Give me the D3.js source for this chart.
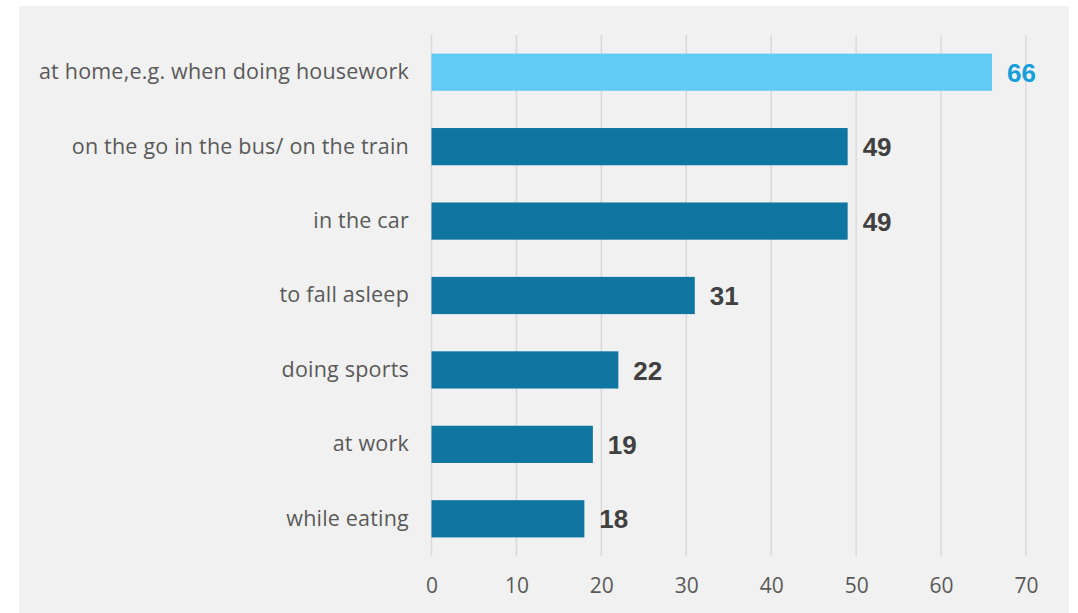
<!DOCTYPE html>
<html>
<head>
<meta charset="utf-8">
<script src="https://cdn.jsdelivr.net/npm/d3@7"></script>
<style>
  html, body { margin: 0; padding: 0; background: #ffffff; }
  svg { display: block; }
</style>
</head>
<body>
<svg id="chart" width="1078" height="613"></svg>
<script>
// Where people listen: share of respondents (%)
const categories = [
  "at home,e.g. when doing housework",
  "on the go in the bus/ on the train",
  "in the car",
  "to fall asleep",
  "doing sports",
  "at work",
  "while eating"
];
const values = [66, 49, 49, 31, 22, 19, 18];
const highlighted = [true, false, false, false, false, false, false];
const tickValues = [0, 10, 20, 30, 40, 50, 60, 70];

const data = categories.map((c, i) => ({ label: c, value: values[i], hi: highlighted[i] }));

const svg = d3.select("#chart");
const W = 1078, H = 613;

// panel background
svg.append("rect")
  .attr("x", 19).attr("y", 6)
  .attr("width", 1050).attr("height", H - 6)
  .attr("fill", "#f1f1f1");

const plot = { left: 431.5, right: 1026, top: 35, bottom: 556 };

const x = d3.scaleLinear().domain([0, 70]).range([plot.left, plot.right]);
const y = d3.scaleBand().domain(categories).range([plot.top, plot.bottom]).paddingInner(0.5).paddingOuter(0.25);

// vertical gridlines
svg.append("g")
  .selectAll("line")
  .data(tickValues)
  .join("line")
  .attr("x1", d => x(d)).attr("x2", d => x(d))
  .attr("y1", plot.top).attr("y2", plot.bottom)
  .attr("stroke", "#d9d9d9")
  .attr("stroke-width", 1.5);

// x axis tick labels
const xAxis = d3.axisBottom(x).tickValues(tickValues).tickSize(0).tickPadding(0);
const gx = svg.append("g")
  .attr("transform", `translate(0,${plot.bottom + 22})`)
  .call(xAxis);
gx.select(".domain").remove();
gx.selectAll("text")
  .attr("dy", "0.71em")
  .attr("fill", "#595959")
  .style("font-family", "'Open Sans', sans-serif")
  .style("font-size", "21px");

// category labels
const yAxis = d3.axisLeft(y).tickSize(0).tickPadding(0);
const gy = svg.append("g")
  .attr("transform", `translate(409,0)`)
  .call(yAxis);
gy.select(".domain").remove();
gy.selectAll("text")
  .attr("fill", "#595959")
  .style("font-family", "'Open Sans', sans-serif")
  .style("font-size", "21.5px")
  .style("letter-spacing", "0.2px");

// bars
svg.append("g")
  .selectAll("rect")
  .data(data)
  .join("rect")
  .attr("x", x(0))
  .attr("y", d => y(d.label))
  .attr("width", d => x(d.value) - x(0))
  .attr("height", y.bandwidth())
  .attr("fill", d => d.hi ? "#61cbf4" : "#0e76a1");

// value labels
svg.append("g")
  .selectAll("text")
  .data(data)
  .join("text")
  .attr("x", d => x(d.value) + 15)
  .attr("y", d => y(d.label) + y.bandwidth() / 2)
  .attr("dy", "0.37em")
  .attr("fill", d => d.hi ? "#149fdb" : "#404040")
  .style("font-family", "'Liberation Sans', Arial, sans-serif")
  .style("font-weight", "bold")
  .style("font-size", "26px")
  .text(d => d.value);
</script>
</body>
</html>
